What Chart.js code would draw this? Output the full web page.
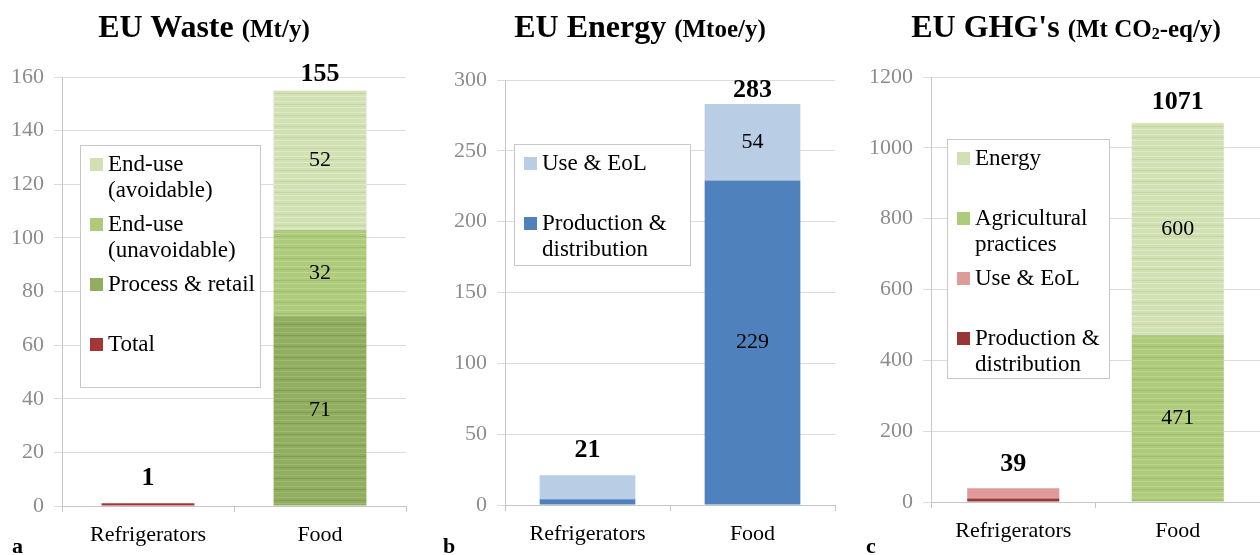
<!DOCTYPE html>
<html>
<head>
<meta charset="utf-8">
<script src="https://cdn.jsdelivr.net/npm/chart.js@4/dist/chart.umd.min.js"></script>
<style>
    body { margin: 0; background: #fff; }
    #wrap { position: relative; width: 1260px; height: 555px; overflow: hidden; font-family: 'Liberation Serif', 'Times New Roman', serif; }
    canvas { position: absolute; top: 0; }
    .title { position: absolute; top: 8px; width: 420px; text-align: center; font-weight: bold; font-size: 32px; white-space: nowrap; }
    .title small { font-size: 25px; }
    .title sub { font-size: 16px; vertical-align: -2px; }
    .letter { position: absolute; top: 533px; font-weight: bold; font-size: 22px; }
    .legend { position: absolute; background: #fff; border: 1px solid #c8c8c8; box-sizing: border-box; padding: 5px 4px 0 9px; font-size: 23px; line-height: 26px; white-space: nowrap; }
    .legend .item { position: relative; height: 60px; padding-left: 18px; }
    .legend .swatch { position: absolute; left: 0; top: 7px; width: 13px; height: 13px; }
</style>
</head>
<body>
<div id="wrap">
    <canvas id="wasteChart" width="420" height="555" style="left:0"></canvas>
    <canvas id="energyChart" width="420" height="555" style="left:420px"></canvas>
    <canvas id="ghgChart" width="420" height="555" style="left:840px"></canvas>

    <div class="title" style="left:-6px">EU Waste <small>(Mt/y)</small></div>
    <div class="title" style="left:430px">EU Energy <small>(Mtoe/y)</small></div>
    <div class="title" style="left:856px">EU GHG's <small>(Mt CO<sub>2</sub>-eq/y)</small></div>

    <div class="letter" style="left:12px">a</div>
    <div class="letter" style="left:443px">b</div>
    <div class="letter" style="left:866px">c</div>

    <div class="legend" id="wasteLegend" style="left:80px; top:145px; width:181px; height:243px"></div>
    <div class="legend" id="energyLegend" style="left:514px; top:144px; width:177px; height:122px"></div>
    <div class="legend" id="ghgLegend" style="left:947px; top:139px; width:163px; height:240px"></div>
</div>

<script>
const categories = ['Refrigerators', 'Food'];

// EU Waste (Mt/y)
const wasteTotal = [1, null];
const wasteProcess = [null, 71];
const wasteUnavoidable = [null, 32];
const wasteAvoidable = [null, 52];

// EU Energy (Mtoe/y)
const energyProduction = [4, 229];
const energyUse = [17, 54];

// EU GHG's (Mt CO2-eq/y)
const ghgProduction = [10, null];
const ghgUse = [29, null];
const ghgAgricultural = [null, 471];
const ghgEnergy = [null, 600];

const serif = "'Liberation Serif', 'Times New Roman', serif";

// horizontal streaks like the scanned original
function stripes(base, light, dark) {
    const c = document.createElement('canvas');
    c.width = 4;
    c.height = 11;
    const g = c.getContext('2d');
    g.fillStyle = base;
    g.fillRect(0, 0, 4, 11);
    g.fillStyle = light;
    g.fillRect(0, 2, 4, 1);
    g.fillRect(0, 8, 4, 1);
    g.fillStyle = dark;
    g.fillRect(0, 5, 4, 1);
    return g.createPattern(c, 'repeat');
}

const colors = {
    red: '#a33636',
    avoidable: '#d1e1b3',
    unavoidable: '#aecb7b',
    process: '#90ad60',
    lightBlue: '#b9cde5',
    blue: '#4f81bd',
    pink: '#df9a9a',
    darkRed: '#983636'
};

const valueLabels = {
    id: 'valueLabels',
    afterDatasetsDraw(chart) {
        const ctx = chart.ctx;
        const sets = chart.data.datasets;
        const lift = chart.options.totalLift;
        ctx.save();
        ctx.textAlign = 'center';
        ctx.textBaseline = 'middle';
        ctx.fillStyle = '#000';

        // segment values on the Food bar
        ctx.font = `22px ${serif}`;
        sets.forEach((ds, i) => {
            const v = ds.data[1];
            if (v == null) return;
            const bar = chart.getDatasetMeta(i).data[1];
            ctx.fillText(v, bar.x, (bar.y + bar.base) / 2);
        });

        // totals above each bar
        ctx.font = `bold 26px ${serif}`;
        categories.forEach((cat, j) => {
            let total = 0;
            let top = null;
            sets.forEach((ds, i) => {
                const v = ds.data[j];
                if (v == null) return;
                total += v;
                const bar = chart.getDatasetMeta(i).data[j];
                if (top == null || bar.y < top.y) top = bar;
            });
            if (top) ctx.fillText(total, top.x, top.y - lift[j]);
        });
        ctx.restore();
    }
};

function makeChart(id, datasets, opts) {
    const ctx = document.getElementById(id).getContext('2d');
    return new Chart(ctx, {
        type: 'bar',
        data: {
            labels: categories,
            datasets: datasets.map(d => ({
                label: d.label,
                data: d.data,
                backgroundColor: d.pattern ? stripes(d.color, d.light, d.dark) : d.color,
                borderWidth: 0,
                categoryPercentage: 1,
                barPercentage: opts.barPct
            }))
        },
        options: {
            responsive: false,
            animation: false,
            totalLift: opts.lift,
            layout: { padding: { top: opts.top, right: opts.right, left: 0, bottom: 0 } },
            plugins: {
                legend: { display: false },
                tooltip: { enabled: false }
            },
            scales: {
                x: {
                    stacked: true,
                    grid: { offset: true, drawOnChartArea: false, tickLength: 6, color: '#c6c6c6' },
                    border: { color: '#c6c6c6' },
                    ticks: { color: '#000', font: { family: serif, size: 22 }, padding: 10 },
                    afterFit(scale) { scale.height = opts.xHeight; }
                },
                y: {
                    stacked: true,
                    min: 0,
                    max: opts.max,
                    ticks: {
                        stepSize: opts.step,
                        color: '#8c8c8c',
                        font: { family: serif, size: 22 },
                        padding: 10,
                        callback: value => String(value)
                    },
                    grid: { color: '#dcdcdc', tickLength: 8 },
                    border: { color: '#c6c6c6' },
                    afterFit(scale) { scale.width = opts.yWidth; }
                }
            }
        },
        plugins: [valueLabels]
    });
}

function buildLegend(id, items) {
    const box = document.getElementById(id);
    box.innerHTML = items.map(item => `
        <div class="item">
            <span class="swatch" style="background:${item.color}"></span>${item.label.join('<br>')}
        </div>
    `).join('');
}

const wasteSets = [
    { label: ['Total'], data: wasteTotal, color: colors.red },
    { label: ['Process & retail'], data: wasteProcess, color: colors.process, pattern: true, light: '#9fba70', dark: '#7f9c50' },
    { label: ['End-use', '(unavoidable)'], data: wasteUnavoidable, color: colors.unavoidable, pattern: true, light: '#bdd58f', dark: '#9fbd6c' },
    { label: ['End-use', '(avoidable)'], data: wasteAvoidable, color: colors.avoidable, pattern: true, light: '#dfeac8', dark: '#c4d7a2' }
];

const energySets = [
    { label: ['Production &', 'distribution'], data: energyProduction, color: colors.blue },
    { label: ['Use & EoL'], data: energyUse, color: colors.lightBlue }
];

const ghgSets = [
    { label: ['Production &', 'distribution'], data: ghgProduction, color: colors.darkRed },
    { label: ['Use & EoL'], data: ghgUse, color: colors.pink },
    { label: ['Agricultural', 'practices'], data: ghgAgricultural, color: colors.unavoidable, pattern: true, light: '#bdd58f', dark: '#9fbd6c' },
    { label: ['Energy'], data: ghgEnergy, color: colors.avoidable, pattern: true, light: '#dfeac8', dark: '#c4d7a2' }
];

makeChart('wasteChart', wasteSets, { max: 160, step: 20, top: 77, right: 14, xHeight: 49, yWidth: 62, barPct: 0.54, lift: [25, 16] });
makeChart('energyChart', energySets, { max: 300, step: 50, top: 80, right: 5, xHeight: 50, yWidth: 85, barPct: 0.58, lift: [25, 14] });
makeChart('ghgChart', ghgSets, { max: 1200, step: 200, top: 77, right: 0, xHeight: 53, yWidth: 91, barPct: 0.56, lift: [24, 20] });

buildLegend('wasteLegend', wasteSets.slice().reverse());
buildLegend('energyLegend', energySets.slice().reverse());
buildLegend('ghgLegend', ghgSets.slice().reverse());
</script>
</body>
</html>
